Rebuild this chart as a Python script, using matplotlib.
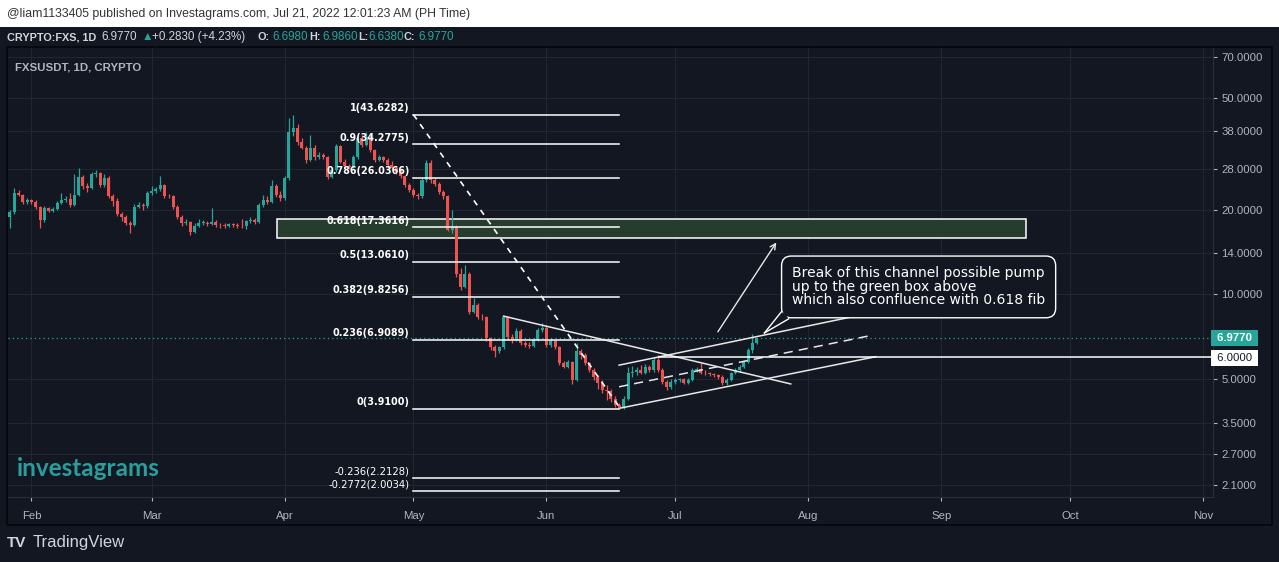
import numpy as np
import pandas as pd
import matplotlib
matplotlib.use("Agg")
import matplotlib.pyplot as plt
import matplotlib.dates as mdates
from matplotlib.patches import Rectangle, Polygon
from matplotlib.transforms import blended_transform_factory

# -----------------------------
# 1. Data
# -----------------------------

start_date = "2022-01-27"
first_open = 18.9
last_open = 6.698

closes = [
    19.7, 23.0, 22.6, 21.3, 21.7, 21.3, 20.5, 18.4, 20.3, 19.85,
    20.1, 21.2, 21.7, 21.9, 20.8, 22.6, 26.2, 24.3, 23.9, 26.8,
    27.0, 24.5, 26.0, 22.4, 21.5, 19.35, 18.9, 17.95, 17.7, 20.5,
    20.8, 20.6, 23.0, 23.3, 23.7, 24.5, 22.4, 22.3, 20.5, 18.9,
    17.95, 18.1, 16.7, 17.55, 17.95, 18.0, 17.8, 18.1, 17.7, 17.6,
    17.5, 17.8, 17.6, 17.5, 17.45, 18.2, 18.4, 18.05, 20.8, 21.7,
    21.3, 24.3, 22.6, 22.1, 25.9, 37.7, 39.0, 34.9, 33.3, 30.1,
    33.3, 30.8, 31.4, 30.8, 26.1, 27.7, 33.6, 29.7, 28.6, 28.4,
    30.8, 35.9, 34.0, 36.4, 32.7, 30.1, 30.9, 30.1, 28.9, 28.1,
    27.3, 26.3, 24.5, 23.5, 22.6, 22.3, 25.5, 29.3, 25.5, 24.8,
    23.2, 22.3, 17.0, 17.4, 11.85, 10.65, 11.8, 8.68, 9.17, 8.32,
    8.28, 6.97, 6.51, 6.27, 6.48, 8.32, 7.05, 6.88, 7.4, 6.71,
    6.6, 6.55, 6.9, 7.47, 7.6, 6.6, 6.85, 6.51, 5.68, 5.52,
    5.76, 4.96, 6.27, 6.1, 5.68, 5.38, 5.1, 4.83, 4.57, 4.52,
    4.26, 4.04, 3.93, 4.26, 5.24, 5.3, 5.38, 5.25, 5.52, 5.38,
    5.84, 5.38, 4.89, 4.7, 4.89, 4.96, 4.98, 4.84, 4.96, 5.38,
    5.41, 5.26, 5.24, 5.2, 5.17, 5.1, 4.83, 4.96, 5.24, 5.38,
    5.52, 5.76, 6.34, 6.694, 6.977,
]

highs = [
    20.0, 23.9, 23.5, 22.8, 22.0, 21.9, 21.6, 20.7, 20.6, 20.5,
    20.4, 21.5, 23.0, 22.3, 23.0, 26.9, 28.2, 26.6, 25.0, 27.3,
    27.7, 27.3, 26.9, 26.3, 22.7, 22.1, 19.7, 19.2, 18.3, 20.9,
    21.3, 21.1, 23.4, 24.3, 24.1, 26.4, 24.8, 22.8, 22.5, 20.8,
    19.2, 18.6, 18.3, 17.9, 18.6, 18.4, 18.2, 20.3, 18.4, 18.0,
    17.9, 18.0, 18.0, 17.9, 18.6, 18.4, 18.8, 18.7, 21.1, 22.6,
    22.3, 25.5, 24.7, 23.4, 26.4, 42.4, 43.63, 40.5, 36.0, 33.6,
    36.9, 34.0, 32.2, 31.8, 31.2, 28.5, 34.2, 34.0, 30.3, 29.2,
    31.4, 36.5, 36.9, 37.9, 37.2, 33.0, 31.4, 31.2, 30.5, 29.8,
    28.6, 28.1, 26.6, 24.9, 23.9, 23.0, 26.0, 30.1, 30.1, 25.9,
    25.1, 23.5, 22.6, 20.0, 17.7, 12.4, 12.75, 12.0, 9.7, 9.3,
    8.5, 8.35, 7.05, 6.6, 6.55, 8.37, 8.37, 7.2, 7.6, 7.5,
    6.85, 6.75, 7.0, 7.6, 7.9, 7.78, 6.95, 6.9, 6.55, 5.8,
    5.85, 5.8, 6.73, 6.4, 6.2, 5.75, 5.45, 5.15, 4.95, 4.75,
    4.6, 4.35, 4.1, 4.35, 5.52, 5.55, 5.5, 5.6, 5.65, 5.6,
    5.98, 6.08, 5.45, 4.95, 4.98, 5.05, 5.05, 5.02, 5.02, 5.45,
    5.5, 5.7, 5.4, 5.3, 5.25, 5.2, 5.15, 5.02, 5.3, 5.45,
    5.6, 5.85, 6.45, 7.2, 6.986,
]

lows = [
    17.2, 19.3, 22.3, 21.0, 21.0, 21.0, 20.2, 17.2, 18.1, 19.6,
    19.6, 19.9, 21.0, 21.4, 20.5, 20.6, 22.3, 23.8, 23.1, 23.7,
    26.2, 24.2, 24.2, 22.1, 20.6, 19.0, 18.3, 17.6, 16.55, 17.5,
    20.3, 20.0, 20.3, 22.6, 23.0, 23.4, 22.0, 22.0, 20.2, 18.6,
    17.5, 17.7, 16.3, 16.5, 17.4, 17.7, 17.5, 17.6, 17.4, 17.2,
    17.2, 17.3, 17.3, 17.2, 17.2, 17.1, 17.9, 17.8, 17.9, 20.5,
    20.9, 21.1, 22.2, 21.5, 21.6, 25.5, 36.5, 34.0, 32.8, 29.3,
    29.8, 30.1, 30.4, 30.4, 25.7, 25.9, 27.3, 29.3, 28.2, 28.0,
    28.1, 30.4, 33.5, 33.6, 32.2, 29.6, 29.8, 29.6, 28.2, 27.6,
    26.8, 25.9, 24.1, 23.1, 22.2, 21.9, 22.1, 25.2, 25.0, 24.3,
    22.8, 21.8, 16.8, 16.6, 11.5, 10.4, 10.5, 8.5, 8.6, 8.2,
    8.1, 6.85, 6.35, 6.0, 6.2, 6.4, 6.9, 6.7, 6.8, 6.6,
    6.5, 6.45, 6.5, 6.85, 7.35, 6.5, 6.5, 6.4, 5.6, 5.45,
    5.45, 4.8, 4.9, 5.9, 5.6, 5.3, 4.95, 4.6, 4.45, 4.2,
    4.15, 3.98, 3.91, 3.91, 4.2, 5.1, 5.15, 5.2, 5.2, 5.3,
    5.3, 5.3, 4.8, 4.57, 4.62, 4.8, 4.88, 4.78, 4.78, 4.9,
    5.3, 5.2, 5.15, 5.12, 5.1, 5.0, 4.74, 4.75, 4.9, 5.2,
    5.3, 5.45, 5.7, 6.2, 6.638,
]

fib_labels = ["1", "0.9", "0.786", "0.618", "0.5", "0.382", "0.236", "0", "-0.236", "-0.2772"]
fib_prices = [43.6282, 34.2775, 26.0366, 17.3616, 13.0610, 9.8256, 6.9089, 3.9100, 2.2128, 2.0034]
fib_span = ["2022-05-01", "2022-06-18"]

price_ticks = [70, 50, 38, 28, 20, 14, 10, 5, 3.5, 2.7, 2.1]
month_starts = ["2022-02-01", "2022-03-01", "2022-04-01", "2022-05-01", "2022-06-01",
                "2022-07-01", "2022-08-01", "2022-09-01", "2022-10-01", "2022-11-01"]
month_labels = ["Feb", "Mar", "Apr", "May", "Jun", "Jul", "Aug", "Sep", "Oct", "Nov"]

last_price = 6.977
level_price = 6.0
level_start = "2022-06-27 03:00"

# drawings made on the chart: (date, price) anchors
green_box = [("2022-03-30 05:00", 15.88), ("2022-09-20 17:00", 18.55)]
channel_low = [("2022-06-18 07:00", 3.94), ("2022-08-16 17:00", 6.0)]
channel_high = [("2022-06-17 22:00", 5.6), ("2022-08-16 17:00", 8.66)]
channel_mid = [("2022-06-17 22:00", 4.69), ("2022-08-16 00:00", 7.16)]
trend_down = [("2022-05-22 00:00", 8.37), ("2022-07-27 22:00", 4.80)]
arrow_up = [("2022-07-10 14:00", 7.22), ("2022-07-24 22:00", 15.6)]
note_anchor = ("2022-07-28 05:00", 10.63)
note_tip = ("2022-07-21 19:00", 7.29)
note_roots = [("2022-07-25 17:00", 8.66), ("2022-07-26 15:00", 8.52), ("2022-07-27 10:00", 8.18)]
note_text = ("Break of this channel possible pump\n"
             "up to the green box above\n"
             "which also confluence with 0.618 fib")

# -----------------------------
# 2. Styling
# -----------------------------

BG = "#131722"
GRID = "#222632"
AXIS_TXT = "#b2b5be"
UP = "#26a69a"
DOWN = "#ef5350"
W, H = 1279, 562


def fx(px):
    return px / W


def fy(py):
    return 1 - py / H


def dn(s):
    return mdates.date2num(pd.Timestamp(s))


fig = plt.figure(figsize=(W / 100, H / 100), dpi=100, facecolor=BG)

# header strip
fig.patches.append(Rectangle((0, fy(27)), 1, 27 / H, transform=fig.transFigure,
                             facecolor="white", edgecolor="none", zorder=0))
fig.text(fx(7), fy(14), "@liam1133405 published on Investagrams.com, Jul 21, 2022 12:01:23 AM (PH Time)",
         color="#333333", fontsize=8.8, family="Liberation Sans", va="center")

info = [
    (7, "CRYPTO:FXS, 1D", "#d1d4dc", "bold"),
    (101, "6.9770", "#d1d4dc", "normal"),
    (142, "\u25b2", UP, "normal"),
    (152, "+0.2830 (+4.23%)", "#d1d4dc", "normal"),
    (258, "O:", "#d1d4dc", "bold"),
    (272, "6.6980", UP, "normal"),
    (309, "H:", "#d1d4dc", "bold"),
    (322, "6.9860", UP, "normal"),
    (358, "L:", "#d1d4dc", "bold"),
    (368, "6.6380", UP, "normal"),
    (403, "C:", "#d1d4dc", "bold"),
    (418, "6.9770", UP, "normal"),
]
for px, t, col, wt in info:
    fig.text(fx(px), fy(37), t, color=col, fontsize=7.8 if wt == "bold" else 8.4,
             fontweight=wt, family=["Liberation Sans", "DejaVu Sans"], va="center")

# chart panel border
fig.patches.append(Rectangle((fx(7), fy(525)), fx(1272) - fx(7), (525 - 47) / H,
                             transform=fig.transFigure, facecolor="none",
                             edgecolor="#05070b", lw=1.2, zorder=0))

ax = fig.add_axes([fx(8), fy(497), fx(1213) - fx(8), (497 - 47) / H])
ax.set_facecolor(BG)

# -----------------------------
# 3. Candles
# -----------------------------

dates = pd.date_range(start_date, periods=len(closes), freq="D")
x = mdates.date2num(dates)
o = np.array([first_open] + closes[:-2] + [last_open])
c = np.array(closes)
up = c >= o
cols = np.where(up, UP, DOWN)
bottoms = np.minimum(o, c)
heights = np.maximum(np.abs(c - o), bottoms * 0.006)

ax.vlines(x, lows, highs, colors=cols, lw=0.9, zorder=3)
ax.bar(x, heights, bottom=bottoms, width=0.7, color=cols, linewidth=0, zorder=3)

# -----------------------------
# 4. Drawings
# -----------------------------

x0, x1 = dn(fib_span[0]), dn(fib_span[1])
for lab, p in zip(fib_labels, fib_prices):
    ax.plot([x0, x1], [p, p], color="white", lw=1.1, zorder=4)
    bold = p > 3
    ax.annotate(f"{lab}({p:.4f})", xy=(x0, p), xytext=(-4, 1.5), textcoords="offset pixels",
                ha="right", va="bottom", color="white", fontsize=7.7 if bold else 8,
                fontweight="bold" if bold else "normal",
                family="DejaVu Sans", fontstretch="condensed", zorder=6)

ax.plot([x0, x1 + 0.3], [fib_prices[0], fib_prices[7]], color="white", lw=1.2,
        dashes=(3.5, 3.5), zorder=4)

(gx0, gp0), (gx1, gp1) = green_box
ax.add_patch(Rectangle((dn(gx0), gp0), dn(gx1) - dn(gx0), gp1 - gp0,
                       facecolor="#263d2e", edgecolor="white", lw=1.1, zorder=2))

for seg, style in [(channel_low, "-"), (channel_high, "-"), (trend_down, "-"), (channel_mid, "--")]:
    xs = [dn(s[0]) for s in seg]
    ps = [s[1] for s in seg]
    if style == "--":
        ax.plot(xs, ps, color="#e8e8e8", lw=1.1, dashes=(6, 4), zorder=4)
    else:
        ax.plot(xs, ps, color="#e8e8e8", lw=1.1, zorder=4)

ax.annotate("", xy=(dn(arrow_up[1][0]), arrow_up[1][1]),
            xytext=(dn(arrow_up[0][0]), arrow_up[0][1]),
            arrowprops=dict(arrowstyle="->", color="#e8e8e8", lw=1, mutation_scale=10),
            zorder=4)

ax.text(dn(note_anchor[0]), note_anchor[1], note_text, ha="left", va="center",
        color="white", fontsize=10, linespacing=0.95, family="DejaVu Sans", zorder=5,
        bbox=dict(boxstyle="round,pad=0.75,rounding_size=0.7", fc=BG, ec="white", lw=1))
poly = [(dn(note_roots[0][0]), note_roots[0][1]), (dn(note_tip[0]), note_tip[1]),
        (dn(note_roots[2][0]), note_roots[2][1]), (dn(note_roots[1][0]), note_roots[1][1])]
ax.add_patch(Polygon(poly, closed=True, facecolor=BG, edgecolor="none", zorder=6))
for r in (note_roots[0], note_roots[2]):
    ax.plot([dn(r[0]), dn(note_tip[0])], [r[1], note_tip[1]], color="white", lw=1, zorder=7)

# price lines
ax.axhline(last_price, color=UP, lw=0.9, ls=(0, (1, 2.5)), zorder=2)
ax.plot([dn(level_start), dn("2022-11-05")], [level_price, level_price], color="white", lw=1.1, zorder=4)

# -----------------------------
# 5. Axes
# -----------------------------

ax.set_yscale("log")
ax.set_ylim(1.901, 75.9)
ax.set_xlim(dn("2022-02-01") - 5.46, dn("2022-02-01") + 275.3)

ax.yaxis.tick_right()
ax.set_yticks(price_ticks)
ax.set_yticklabels([f"{t:.4f}" for t in price_ticks])
ax.yaxis.set_minor_locator(matplotlib.ticker.NullLocator())
ax.set_xticks([dn(m) for m in month_starts])
ax.set_xticklabels(month_labels)
ax.tick_params(axis="y", colors=AXIS_TXT, labelsize=8.2, length=3, width=0.8, pad=3,
               labelfontfamily="Liberation Sans")
ax.tick_params(axis="x", colors=AXIS_TXT, labelsize=8.2, length=3, width=0.8, pad=7,
               labelfontfamily="Liberation Sans")
ax.grid(True, color=GRID, lw=0.8, zorder=0)
ax.set_axisbelow(True)
for side in ["top", "left"]:
    ax.spines[side].set_visible(False)
ax.spines["right"].set_color("#2a2e39")
ax.spines["bottom"].set_color("#2a2e39")

# price labels on the axis
bt = blended_transform_factory(ax.transAxes, ax.transData)
ax.text(1.0005, last_price, " 6.9770 ", transform=bt, ha="left", va="center",
        color="white", fontsize=8.2, fontweight="bold", family="Liberation Sans", clip_on=False,
        bbox=dict(boxstyle="square,pad=0.25", fc=UP, ec="none"), zorder=10)
ax.text(1.0005, level_price * 0.99, " 6.0000 ", transform=bt, ha="left", va="center",
        color="#131722", fontsize=8.2, family="Liberation Sans", clip_on=False,
        bbox=dict(boxstyle="square,pad=0.25", fc="white", ec="none"), zorder=10)

# legend / watermarks
fig.text(fx(15), fy(67), "FXSUSDT, 1D, CRYPTO", color=AXIS_TXT, fontsize=8.2,
         fontweight="bold", family="Liberation Sans", va="center")
fig.text(fx(17), fy(468), "investagrams", color="#2a9d9c", fontsize=17.5,
         fontweight="bold", family="Lato", va="center")
fig.text(fx(7), fy(543), "TV", color="#d1d4dc", fontsize=11, fontweight="bold",
         family="Liberation Sans", va="center")
fig.text(fx(33), fy(543), "TradingView", color="#d1d4dc", fontsize=12,
         family="Liberation Sans", va="center")

fig.savefig("out.png", dpi=100, facecolor=BG)
